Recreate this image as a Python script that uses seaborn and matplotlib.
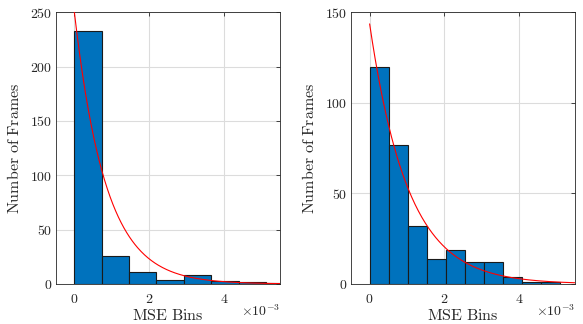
import numpy as np
import pandas as pd
import seaborn as sns
import matplotlib
matplotlib.use("Agg")
import matplotlib.pyplot as plt
from matplotlib.ticker import FuncFormatter, FixedLocator

# ---- data ----
left_counts = [233, 26, 11, 4, 8, 3, 2, 1]
left_binwidth = 0.732e-3
left_fit_amp = 250.0
left_fit_rate = 1190.0

right_counts = [120, 77, 32, 14, 19, 12, 12, 4, 1, 1]
right_binwidth = 0.51e-3
right_fit_amp = 143.6
right_fit_rate = 973.0

left_yticks = [0, 50, 100, 150, 200, 250]
right_yticks = [0, 50, 100, 150]
xticks = [0, 2e-3, 4e-3]
xlim = (-0.5e-3, 5.5e-3)

sns.set_theme(style="white")
plt.rcParams['font.family'] = ['DejaVu Serif']
plt.rcParams['mathtext.fontset'] = 'cm'

BLUE = "#0072BD"
AXC = "#262626"

fig = plt.figure(figsize=(5.83, 3.24), dpi=100)
ax1 = fig.add_axes([0.0955, 0.1235, 0.3848, 0.8385])
ax2 = fig.add_axes([0.602, 0.1235, 0.3842, 0.8385])


def draw(ax, counts, bw, amp, rate, yticks):
    n = len(counts)
    centers = (np.arange(n) + 0.5) * bw
    df = pd.DataFrame({"mse": centers, "count": counts})
    sns.histplot(data=df, x="mse", weights="count", binwidth=bw,
                 binrange=(0, n * bw), ax=ax,
                 color=BLUE, alpha=1.0, edgecolor="#1a1a1a", linewidth=0.8,
                 zorder=2)
    xs = np.linspace(0, xlim[1], 300)
    ys = amp * np.exp(-rate * xs)
    sns.lineplot(x=xs, y=ys, ax=ax, color="red", linewidth=0.8, zorder=3)
    ax.set_xlim(*xlim)
    ax.set_ylim(0, yticks[-1])
    ax.xaxis.set_major_locator(FixedLocator(xticks))
    ax.yaxis.set_major_locator(FixedLocator(yticks))
    ax.xaxis.set_major_formatter(FuncFormatter(lambda v, p: f"${v*1e3:g}$"))
    ax.yaxis.set_major_formatter(FuncFormatter(lambda v, p: f"${v:g}$"))
    ax.grid(True, color="#dcdcdc", linewidth=0.8, zorder=0)
    ax.set_axisbelow(True)
    ax.tick_params(direction="in", length=3, width=0.6, colors=AXC,
                   labelsize=10, top=True, right=True, labelcolor=AXC)
    ax.tick_params(axis="x", pad=5.5)
    ax.tick_params(axis="y", pad=2.5)
    for s in ax.spines.values():
        s.set_visible(True)
        s.set_color(AXC)
        s.set_linewidth(0.6)
    ax.set_xlabel(r"$\mathrm{MSE\ Bins}$", fontsize=11.5, color=AXC, labelpad=1)
    ax.set_ylabel(r"$\mathrm{Number\ of\ Frames}$", fontsize=11.5, color=AXC, labelpad=5)
    ax.text(1.0, -0.1, r"$\times10^{-3}$", transform=ax.transAxes,
            ha="right", va="center", fontsize=10, color=AXC)


draw(ax1, left_counts, left_binwidth, left_fit_amp, left_fit_rate, left_yticks)
draw(ax2, right_counts, right_binwidth, right_fit_amp, right_fit_rate, right_yticks)

fig.savefig("out.png", dpi=100)
